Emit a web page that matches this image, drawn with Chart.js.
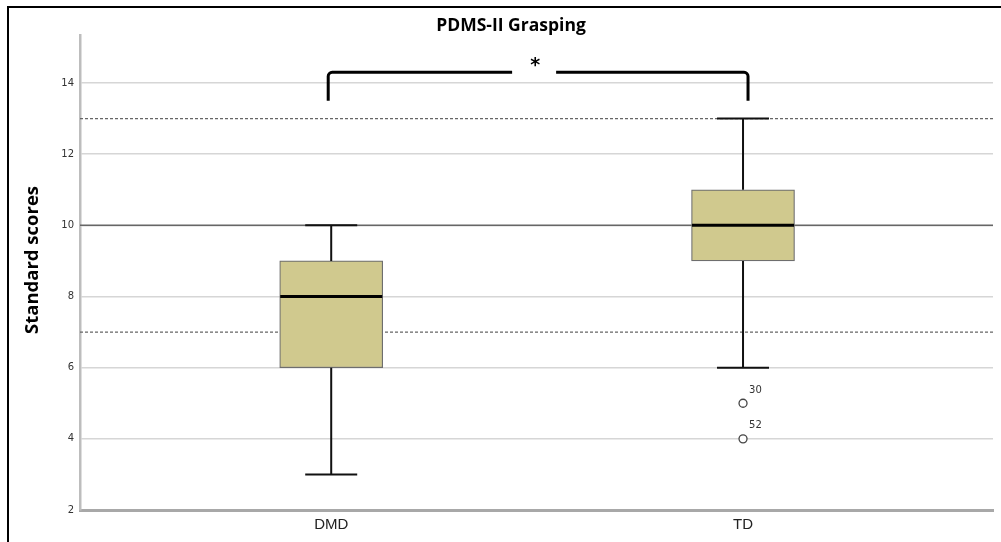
<!DOCTYPE html>
<html>
<head>
<meta charset="utf-8">
<script src="https://cdn.jsdelivr.net/npm/chart.js@4/dist/chart.umd.min.js"></script>
<style>
    html, body { margin: 0; padding: 0; background: #fff; }
    #wrap { width: 1001px; height: 542px; }
</style>
</head>
<body>
<div id="wrap"><canvas id="boxChart"></canvas></div>
<script>
// group data
const categories = ['DMD', 'TD'];
const q1 = [6, 9];
const q3 = [9, 11];
const medians = [8, 10];
const whiskerLow = [3, 6];
const whiskerHigh = [10, 13];
const outlierValues = [5, 4];
const outlierLabels = ['30', '52'];
const outlierGroup = [2, 2];
const yTicks = [2, 4, 6, 8, 10, 12, 14];
const refSolid = [10];
const refDotted = [13, 7];
const bracketTop = 14.3;
const bracketLegEnd = 13.5;

const boxColor = '#d0c98e';

const extras = {
    id: 'extras',
    beforeDraw(chart) {
        const ctx = chart.ctx;
        ctx.save();
        ctx.fillStyle = '#fff';
        ctx.fillRect(0, 0, chart.width, chart.height);
        ctx.strokeStyle = '#000';
        ctx.lineWidth = 2;
        ctx.beginPath();
        ctx.moveTo(8, chart.height);
        ctx.lineTo(8, 7);
        ctx.lineTo(chart.width, 7);
        ctx.stroke();
        // title
        ctx.fillStyle = '#000';
        ctx.font = 'bold 17.5px "Open Sans"';
        ctx.textAlign = 'center';
        ctx.textBaseline = 'middle';
        ctx.fillText('PDMS-II Grasping', 511, 26);
        // y axis title (sits a little above the plot centre in the original)
        ctx.translate(33, 260);
        ctx.rotate(-Math.PI / 2);
        ctx.font = 'bold 18.5px "Open Sans"';
        ctx.fillText('Standard scores', 0, 0);
        ctx.restore();
    },
    beforeDatasetsDraw(chart) {
        const { ctx, chartArea: a, scales: { y } } = chart;
        ctx.save();
        ctx.strokeStyle = '#666';
        ctx.lineWidth = 1.5;
        refSolid.forEach(v => {
            const py = y.getPixelForValue(v);
            ctx.beginPath(); ctx.moveTo(a.left, py); ctx.lineTo(a.right, py); ctx.stroke();
        });
        ctx.lineWidth = 1.2;
        ctx.setLineDash([3, 2]);
        refDotted.forEach(v => {
            const py = y.getPixelForValue(v);
            ctx.beginPath(); ctx.moveTo(a.left, py); ctx.lineTo(a.right, py); ctx.stroke();
        });
        ctx.restore();
    },
    afterDatasetsDraw(chart) {
        const { ctx, scales: { x, y } } = chart;
        ctx.save();
        categories.forEach((c, i) => {
            const px = x.getPixelForValue(i + 1);
            ctx.strokeStyle = '#111';
            ctx.lineWidth = 2;
            ctx.beginPath();
            ctx.moveTo(px, y.getPixelForValue(q3[i]));
            ctx.lineTo(px, y.getPixelForValue(whiskerHigh[i]));
            ctx.moveTo(px, y.getPixelForValue(q1[i]));
            ctx.lineTo(px, y.getPixelForValue(whiskerLow[i]));
            [whiskerHigh[i], whiskerLow[i]].forEach(v => {
                const py = y.getPixelForValue(v);
                ctx.moveTo(px - 26, py); ctx.lineTo(px + 26, py);
            });
            ctx.stroke();
            // median
            ctx.strokeStyle = '#000';
            ctx.lineWidth = 3;
            const my = y.getPixelForValue(medians[i]);
            ctx.beginPath(); ctx.moveTo(px - 51, my); ctx.lineTo(px + 51, my); ctx.stroke();
        });
        // outlier case numbers
        ctx.fillStyle = '#333';
        ctx.font = '10px "DejaVu Sans"';
        ctx.textAlign = 'left';
        ctx.textBaseline = 'middle';
        outlierValues.forEach((v, i) => {
            ctx.fillText(outlierLabels[i], x.getPixelForValue(outlierGroup[i]) + 6, y.getPixelForValue(v) - 13);
        });
        // significance bracket
        const x1 = x.getPixelForValue(1) - 3, x2 = x.getPixelForValue(2) + 5;
        const yt = y.getPixelForValue(bracketTop), yb = y.getPixelForValue(bracketLegEnd);
        const mid = (x1 + x2) / 2 - 4;
        ctx.strokeStyle = '#000';
        ctx.lineWidth = 3;
        ctx.lineJoin = 'round';
        ctx.beginPath();
        ctx.moveTo(x1, yb);
        ctx.arcTo(x1, yt, x1 + 6, yt, 4);
        ctx.lineTo(mid - 22, yt);
        ctx.moveTo(mid + 22, yt);
        ctx.arcTo(x2, yt, x2, yb, 4);
        ctx.lineTo(x2, yb);
        ctx.stroke();
        ctx.fillStyle = '#000';
        ctx.font = 'bold 19px "DejaVu Sans"';
        ctx.textAlign = 'center';
        ctx.fillText('*', mid + 1, yt - 6);
        ctx.restore();
    }
};

new Chart(document.getElementById('boxChart'), {
    type: 'bar',
    data: {
        datasets: [
            {
                type: 'bar',
                data: categories.map((c, i) => ({ x: i + 1, y: [q1[i], q3[i]] })),
                backgroundColor: boxColor,
                borderColor: '#6e6e6e',
                borderWidth: 1.2,
                borderSkipped: false,
                barThickness: 103
            },
            {
                type: 'scatter',
                data: outlierValues.map((v, i) => ({ x: outlierGroup[i], y: v })),
                pointStyle: 'circle',
                pointRadius: 4,
                pointBackgroundColor: '#fff',
                pointBorderColor: '#444',
                pointBorderWidth: 1.3,
                showLine: false
            }
        ]
    },
    options: {
        responsive: true,
        maintainAspectRatio: false,
        animation: false,
        layout: { padding: { top: 35, right: 8, left: 18, bottom: 0 } },
        plugins: { legend: { display: false }, tooltip: { enabled: false } },
        scales: {
            x: {
                type: 'linear',
                offset: false,
                min: 0.39,
                max: 2.607,
                afterBuildTicks: s => { s.ticks = categories.map((c, i) => ({ value: i + 1 })); },
                afterFit: s => { s.height = 32; },
                ticks: {
                    callback: v => categories[v - 1],
                    color: '#222',
                    font: { family: '"Liberation Sans"', size: 15 },
                    padding: 6,
                    maxRotation: 0
                },
                grid: { display: false, drawTicks: false, offset: false },
                border: { color: '#a8a8a8', width: 3 }
            },
            y: {
                min: 2,
                max: 15.35,
                afterBuildTicks: s => { s.ticks = yTicks.map(v => ({ value: v })); },
                afterFit: s => { s.width = 62; },
                ticks: {
                    color: '#333',
                    font: { family: '"DejaVu Sans"', size: 10 },
                    padding: 6
                },
                grid: { color: '#d6d6d6', lineWidth: 1.5, drawTicks: false },
                border: { color: '#bdbdbd', width: 2.5 }
            }
        }
    },
    plugins: [extras]
});
</script>
</body>
</html>
